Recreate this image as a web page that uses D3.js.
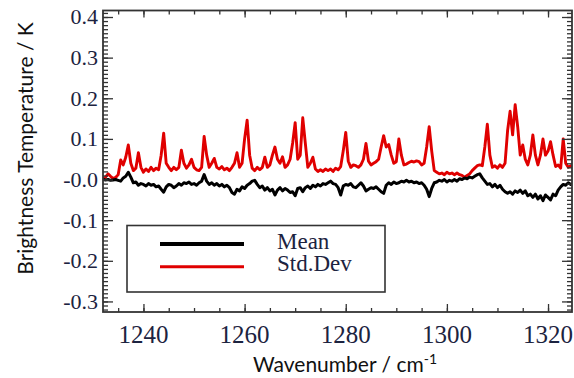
<!DOCTYPE html>
<html lang="en">
<head>
  <meta charset="UTF-8">
  <title>Brightness temperature mean / std.dev</title>
  <script src="https://cdnjs.cloudflare.com/ajax/libs/d3/7.8.5/d3.min.js"></script>
  <style>
    body {
      margin: 0;
      background: white;
    }
    svg {
      display: block;
    }
    .tick-label {
      font-family: "Liberation Serif", serif;
      fill: #1c2340;
    }
    .axis-title {
      font-family: Lato, "Open Sans", sans-serif;
      font-size: 21px;
      fill: #111;
    }
    .legend-text {
      font-family: "Liberation Serif", serif;
      font-size: 23px;
      fill: #1c2340;
    }
  </style>
</head>
<body>
  <script>
    // spectral grid: 1232 .. 1325 cm-1, every 0.5 cm-1
    var waveStart = 1232;
    var waveStep = 0.5;

    var meanValues = [
       0.000, -0.001,  0.000, -0.002, -0.001,  0.000, -0.002, -0.004,  0.004,  0.008,
       0.018,  0.006, -0.008, -0.006, -0.014, -0.010, -0.012, -0.016, -0.010, -0.014,
      -0.012, -0.018, -0.016, -0.024, -0.031, -0.018, -0.012, -0.014, -0.020, -0.016,
      -0.010, -0.014, -0.008, -0.010, -0.006, -0.012, -0.010, -0.014, -0.008, -0.004,
       0.012, -0.004, -0.012, -0.008, -0.014, -0.010, -0.016, -0.012, -0.018, -0.014,
      -0.020, -0.032, -0.036, -0.024, -0.028, -0.018, -0.022, -0.014, -0.010, -0.004,
      -0.002, -0.012, -0.020, -0.016, -0.026, -0.020, -0.028, -0.024, -0.038, -0.026,
      -0.020, -0.028, -0.022, -0.026, -0.032, -0.030, -0.040, -0.022, -0.020, -0.030,
      -0.020, -0.016, -0.022, -0.014, -0.018, -0.012, -0.016, -0.010, -0.012, -0.008,
      -0.004, -0.010, -0.012, -0.020, -0.038, -0.016, -0.012, -0.014, -0.010, -0.018,
      -0.020, -0.014, -0.008, -0.016, -0.028, -0.024, -0.020, -0.022, -0.018, -0.024,
      -0.030, -0.034, -0.014, -0.008, -0.012, -0.006, -0.010, -0.008, -0.004, -0.006,
      -0.002, -0.006, -0.004, -0.008, -0.006, -0.010, -0.008, -0.014, -0.024, -0.042,
      -0.022, -0.008, -0.006, -0.002, -0.004,  0.000, -0.006, -0.002, -0.004,  0.000,
      -0.004,  0.002,  0.000,  0.004,  0.002,  0.006,  0.004,  0.008,  0.012,  0.014,
       0.004, -0.004, -0.012, -0.010, -0.018, -0.012, -0.020, -0.014, -0.024, -0.030,
      -0.034, -0.030, -0.036, -0.028, -0.032, -0.026, -0.034, -0.028, -0.040, -0.036,
      -0.044, -0.036, -0.048, -0.040, -0.052, -0.038, -0.044, -0.050, -0.036, -0.040,
      -0.026, -0.018, -0.012, -0.014, -0.008, -0.012, -0.010
    ];

    var stdValues = [
      0.002, 0.006, 0.014, 0.008, 0.003, 0.005, 0.012, 0.048, 0.036, 0.055,
      0.085, 0.040, 0.022, 0.028, 0.066, 0.030, 0.018, 0.026, 0.020, 0.030,
      0.022, 0.028, 0.024, 0.060, 0.114, 0.040, 0.030, 0.022, 0.030, 0.024,
      0.030, 0.072, 0.040, 0.028, 0.036, 0.050, 0.030, 0.024, 0.022, 0.030,
      0.106, 0.060, 0.030, 0.040, 0.052, 0.030, 0.026, 0.032, 0.024, 0.028,
      0.022, 0.030, 0.040, 0.066, 0.030, 0.040, 0.100, 0.146, 0.060, 0.028,
      0.022, 0.030, 0.024, 0.030, 0.055, 0.030, 0.036, 0.060, 0.080, 0.050,
      0.040, 0.056, 0.030, 0.036, 0.050, 0.090, 0.140, 0.050, 0.060, 0.152,
      0.090, 0.030, 0.040, 0.055, 0.026, 0.020, 0.024, 0.020, 0.026, 0.022,
      0.026, 0.020, 0.028, 0.024, 0.032, 0.070, 0.116, 0.045, 0.030, 0.036,
      0.034, 0.030, 0.036, 0.050, 0.089, 0.045, 0.036, 0.040, 0.044, 0.050,
      0.080, 0.108, 0.080, 0.086, 0.060, 0.040, 0.044, 0.100, 0.060, 0.036,
      0.038, 0.042, 0.045, 0.043, 0.046, 0.044, 0.036, 0.040, 0.080, 0.130,
      0.070, 0.022, 0.018, 0.014, 0.016, 0.012, 0.018, 0.014, 0.016, 0.012,
      0.016, 0.012, 0.010, 0.006, 0.010, 0.014, 0.022, 0.028, 0.034, 0.036,
      0.034, 0.080, 0.136, 0.060, 0.030, 0.034, 0.028, 0.036, 0.030, 0.040,
      0.120, 0.168, 0.110, 0.184, 0.130, 0.060, 0.085, 0.050, 0.036, 0.060,
      0.110, 0.060, 0.036, 0.060, 0.100, 0.060, 0.070, 0.093, 0.060, 0.032,
      0.036, 0.028, 0.100, 0.040, 0.030, 0.034, 0.032
    ];

    var xTickValues = [1240, 1260, 1280, 1300, 1320];
    var yTickValues = [0.4, 0.3, 0.2, 0.1, 0.0, -0.1, -0.2, -0.3];
    var yTickLabels = ["0.4", "0.3", "0.2", "0.1", "-0.0", "-0.1", "-0.2", "-0.3"];
    var legendNames = ["Mean", "Std.Dev"];
    var seriesColors = ["#000000", "#e00000"];

    var w = 574;
    var h = 378;
    var plotLeft = 103, plotRight = 572, plotTop = 10.5, plotBottom = 312;

    var svg = d3.select("body").append("svg")
      .attr("width", w)
      .attr("height", h);

    var xScale = d3.scaleLinear()
      .domain([1232.0, 1324.74])
      .range([plotLeft, plotRight]);

    var yScale = d3.scaleLinear()
      .domain([-0.326, 0.416])
      .range([plotBottom, plotTop]);

    function waveAt(i) {
      return waveStart + i * waveStep;
    }

    svg.append("clipPath")
      .attr("id", "plot-clip")
      .append("rect")
      .attr("x", plotLeft)
      .attr("y", plotTop)
      .attr("width", plotRight - plotLeft)
      .attr("height", plotBottom - plotTop);

    var line = d3.line()
      .x(function(d, i) { return xScale(waveAt(i)); })
      .y(function(d) { return yScale(d); });

    var lines = svg.append("g").attr("clip-path", "url(#plot-clip)");

    lines.append("path")
      .datum(stdValues)
      .attr("fill", "none")
      .attr("stroke", seriesColors[1])
      .attr("stroke-width", 2.9)
      .attr("stroke-linejoin", "round")
      .attr("d", line);

    lines.append("path")
      .datum(meanValues)
      .attr("fill", "none")
      .attr("stroke", seriesColors[0])
      .attr("stroke-width", 3)
      .attr("stroke-linejoin", "round")
      .attr("d", line);

    // axes on all four sides, ticks pointing inwards
    var xMinor = d3.range(1235, 1325, 5);
    var yMinor = d3.range(-32, 42, 1).map(function(d) { return d / 100; });

    var bottomAxis = d3.axisBottom(xScale).tickValues(xMinor)
      .tickSize(-4).tickFormat("");
    var bottomMajor = d3.axisBottom(xScale).tickValues(xTickValues)
      .tickSize(-8).tickFormat("");
    var topAxis = d3.axisTop(xScale).tickValues(xMinor)
      .tickSize(-4).tickFormat("");
    var topMajor = d3.axisTop(xScale).tickValues(xTickValues)
      .tickSize(-7).tickFormat("");
    var leftAxis = d3.axisLeft(yScale).tickValues(yMinor)
      .tickSize(-5).tickFormat("");
    var leftMajor = d3.axisLeft(yScale).tickValues(yTickValues)
      .tickSize(-10).tickFormat("");
    var rightAxis = d3.axisRight(yScale).tickValues(yMinor)
      .tickSize(-5).tickFormat("");
    var rightMajor = d3.axisRight(yScale).tickValues(yTickValues)
      .tickSize(-10).tickFormat("");

    [
      [bottomAxis, 0, plotBottom], [bottomMajor, 0, plotBottom],
      [topAxis, 0, plotTop], [topMajor, 0, plotTop],
      [leftAxis, plotLeft, 0], [leftMajor, plotLeft, 0],
      [rightAxis, plotRight, 0], [rightMajor, plotRight, 0]
    ].forEach(function(a) {
      var g = svg.append("g")
        .attr("transform", "translate(" + a[1] + "," + a[2] + ")")
        .call(a[0]);
      g.select(".domain").remove();
      g.selectAll(".tick line")
        .attr("stroke", "#333")
        .attr("stroke-width", 1.3);
    });

    svg.append("rect")
      .attr("x", plotLeft)
      .attr("y", plotTop)
      .attr("width", plotRight - plotLeft)
      .attr("height", plotBottom - plotTop)
      .attr("fill", "none")
      .attr("stroke", "#333")
      .attr("stroke-width", 1.8);

    svg.selectAll(".x-label")
      .data(xTickValues)
      .enter()
      .append("text")
      .classed("tick-label", true)
      .attr("x", function(d) { return xScale(d); })
      .attr("y", 343)
      .attr("text-anchor", "middle")
      .attr("font-size", 25)
      .text(function(d) { return d; });

    svg.selectAll(".y-label")
      .data(yTickValues)
      .enter()
      .append("text")
      .classed("tick-label", true)
      .attr("x", 98)
      .attr("y", function(d) { return yScale(d); })
      .attr("dy", "0.34em")
      .attr("text-anchor", "end")
      .attr("font-size", 22)
      .text(function(d, i) { return yTickLabels[i]; });

    svg.append("text")
      .classed("axis-title", true)
      .attr("transform", "translate(33,148.5) rotate(-90)")
      .attr("text-anchor", "middle")
      .text("Brightness Temperature / K");

    var xTitle = svg.append("text")
      .classed("axis-title", true)
      .attr("x", 345)
      .attr("y", 372)
      .attr("text-anchor", "middle");
    xTitle.append("tspan").text("Wavenumber / cm");
    xTitle.append("tspan")
      .attr("dy", -8)
      .attr("font-size", 14)
      .text("-1");

    // legend
    var legend = svg.append("g");
    legend.append("rect")
      .attr("x", 127)
      .attr("y", 225.5)
      .attr("width", 258)
      .attr("height", 66.5)
      .attr("fill", "white")
      .attr("stroke", "#333")
      .attr("stroke-width", 1.6);

    legend.selectAll(".legend-line")
      .data(legendNames)
      .enter()
      .append("line")
      .attr("x1", 160)
      .attr("x2", 244)
      .attr("y1", function(d, i) { return 244 + i * 22.7; })
      .attr("y2", function(d, i) { return 244 + i * 22.7; })
      .attr("stroke", function(d, i) { return seriesColors[i]; })
      .attr("stroke-width", function(d, i) { return i == 0 ? 4 : 3; });

    legend.selectAll(".legend-text")
      .data(legendNames)
      .enter()
      .append("text")
      .classed("legend-text", true)
      .attr("x", 277)
      .attr("y", function(d, i) { return 248.5 + i * 22; })
      .text(function(d) { return d; });
  </script>
</body>
</html>
